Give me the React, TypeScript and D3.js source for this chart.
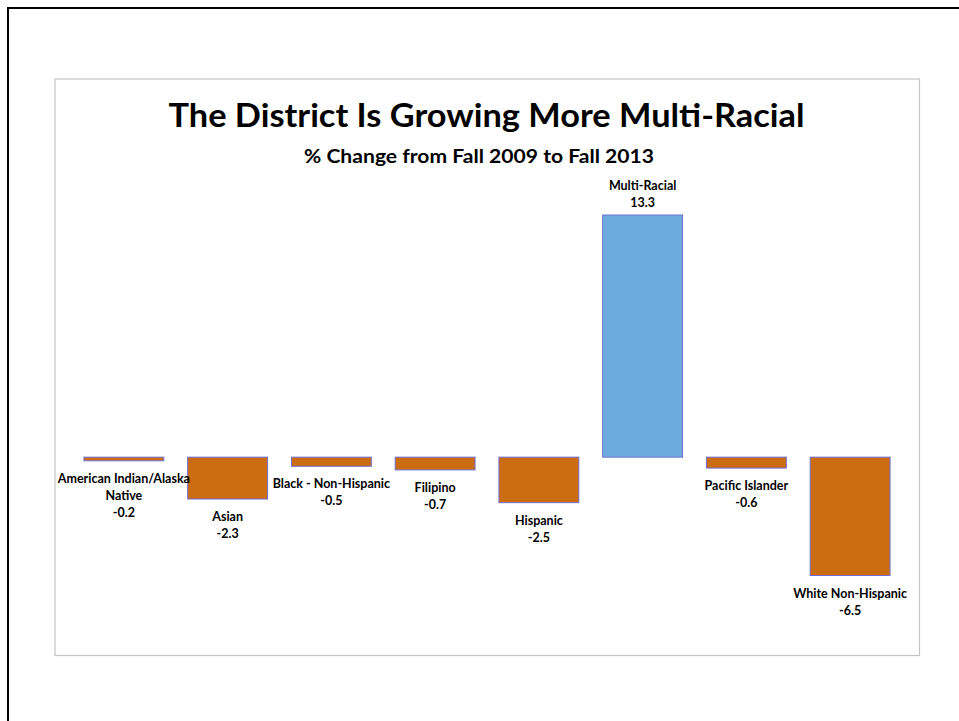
import React from "react";
import * as d3 from "d3";

const categories: string[][] = [
  ["American Indian/Alaska", "Native"],
  ["Asian"],
  ["Black - Non-Hispanic"],
  ["Filipino"],
  ["Hispanic"],
  ["Multi-Racial"],
  ["Pacific Islander"],
  ["White Non-Hispanic"],
];
const values: number[] = [-0.2, -2.3, -0.5, -0.7, -2.5, 13.3, -0.6, -6.5];
const valueLabels: string[] = ["-0.2", "-2.3", "-0.5", "-0.7", "-2.5", "13.3", "-0.6", "-6.5"];

const TITLE = "The District Is Growing More Multi-Racial";
const SUBTITLE = "% Change from Fall 2009 to Fall 2013";

const W = 959;
const H = 721;
const FONT = "Lato, 'Open Sans', 'DejaVu Sans', sans-serif";

export default function App() {
  const keys = categories.map((c) => c.join(" "));
  const x = d3
    .scaleBand<string>()
    .domain(keys)
    .range([72, 902])
    .paddingInner(0.23)
    .paddingOuter(0.115);
  const y = d3
    .scaleLinear()
    .domain([d3.min(values) as number, d3.max(values) as number])
    .range([575.5, 215]);

  const lineH = 17;
  const bw = x.bandwidth();

  return (
    <svg
      width={W}
      height={H}
      style={{ position: "absolute", left: 0, top: 0, background: "#fff" }}
      fontFamily={FONT}
    >
      <rect x={0} y={0} width={W} height={H} fill="#fff" />
      <line x1={7} y1={8} x2={W} y2={8} stroke="#000" strokeWidth={2} />
      <line x1={8} y1={7} x2={8} y2={H} stroke="#000" strokeWidth={2} />
      <rect x={55} y={79} width={864.5} height={576.5} fill="#fff" stroke="#c4c4c4" strokeWidth={1.2} />

      <text
        x={486.5}
        y={127}
        textAnchor="middle"
        fontSize={32}
        fontWeight={700}
        textLength={636}
        lengthAdjust="spacingAndGlyphs"
        fill="#000"
      >
        {TITLE}
      </text>
      <text
        x={479}
        y={163}
        textAnchor="middle"
        fontSize={18}
        fontWeight={700}
        textLength={350}
        lengthAdjust="spacingAndGlyphs"
        fill="#000"
      >
        {SUBTITLE}
      </text>

      <g>
        {values.map((v, i) => {
          const yTop = y(Math.max(0, v));
          const yBot = y(Math.min(0, v));
          return (
            <rect
              key={keys[i]}
              x={x(keys[i]) as number}
              y={yTop}
              width={bw}
              height={Math.max(1, yBot - yTop)}
              fill={v >= 0 ? "#6cacdc" : "#cc6c12"}
              stroke="#6e6ed4"
              strokeWidth={1}
            />
          );
        })}
      </g>
      <g>
        {values.map((v, i) => {
          const yTop = y(Math.max(0, v));
          const yBot = y(Math.min(0, v));
          const cx = (x(keys[i]) as number) + bw / 2;
          const pos = v >= 0;
          const lines = [...categories[i], valueLabels[i]];
          const baseY = pos ? yTop - 8 - (lines.length - 1) * lineH : yBot + 22;
          return (
            <g key={keys[i]}>
              {lines.map((t, j) => (
                <text
                  key={j}
                  x={cx}
                  y={baseY + j * lineH}
                  textAnchor="middle"
                  fontSize={12.5}
                  fontWeight={700}
                  fill="#000"
                >
                  {t}
                </text>
              ))}
            </g>
          );
        })}
      </g>
    </svg>
  );
}
